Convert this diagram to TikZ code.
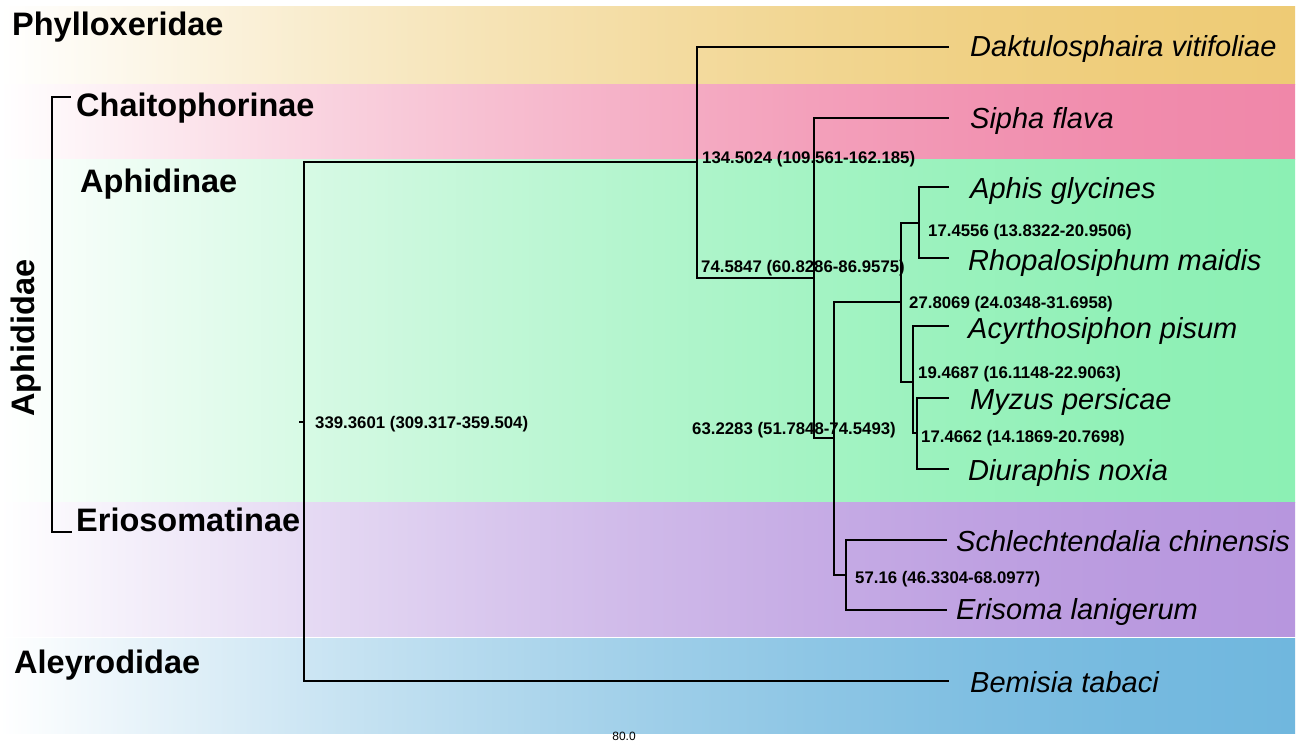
\documentclass[tikz,border=0pt]{standalone}
\usepackage{fontspec}
\setmainfont{Liberation Sans}
\usepackage{xcolor}
\definecolor{phyllogold}{HTML}{EECB75}
\definecolor{chaitopink}{HTML}{F087A9}
\definecolor{aphidgreen}{HTML}{8CF0B4}
\definecolor{eriopurple}{HTML}{B796DE}
\definecolor{aleyblue}{HTML}{70B7DE}
\colorlet{bandc}{white}
\usepackage{tikz}
\usetikzlibrary{positioning}
\pgfdeclarehorizontalshading[bandc]{bandramp}{100bp}{color(0bp)=(white);
  color(25bp)=(white); color(31.25bp)=(bandc!19); color(37.5bp)=(bandc!37);
  color(43.75bp)=(bandc!53); color(50bp)=(bandc!67); color(56.25bp)=(bandc!79);
  color(62.5bp)=(bandc!89); color(68.75bp)=(bandc!96); color(75bp)=(bandc);
  color(100bp)=(bandc)}

\begin{document}
\begin{tikzpicture}[x=1pt,y=-1pt,
  band/.code={\colorlet{bandc}{#1}\tikzset{shading=bandramp}},
  branch/.style={line width=2.2pt},
  clade/.style={font=\fontsize{32.5}{33}\selectfont\bfseries,
                anchor=base west,inner sep=0pt},
  species/.style={font=\fontsize{29}{30}\selectfont\itshape,
                  anchor=base west,inner sep=0pt},
  age/.style={font=\fontsize{16.8}{17}\selectfont\bfseries,
              anchor=base west,inner sep=0pt}]
  \fill[white] (0,0) rectangle (1303,746);
  \useasboundingbox (0,0) rectangle (1303,746);
  % coloured bands
  \shade[band=phyllogold] (0,7) rectangle (1295,85);
  \shade[band=chaitopink] (0,85) rectangle (1295,160);
  \shade[band=aphidgreen] (0,160) rectangle (1295,502);
  \shade[band=eriopurple] (0,502) rectangle (1295,636);
  \shade[band=aleyblue] (0,638) rectangle (1295,733);
  % group names
  \node[clade] (phyllo) at (12,36) {Phylloxeridae};
  \node[clade] (chaito) at (76,117) {Chaitophorinae};
  \node[clade] (aphidin) at (80,193) {Aphidinae};
  \node[clade] (eriosom) at (76,531) {Eriosomatinae};
  \node[clade] (aleyro) at (14,673) {Aleyrodidae};
  \node[clade,anchor=base,rotate=90] (aphidid) at (34,338) {Aphididae};
  \coordinate (brtop) at (71,97);
  \coordinate (brbot) at (72,532);
  \draw[line width=2pt] (brtop) -- ++(-19,0) |- (brbot);
  % internal nodes
  \coordinate (stub) at (299,422);
  \coordinate (root) at (304,422);
  \coordinate (n1) at (697,162);
  \coordinate (n2) at (814,278);
  \coordinate (n3) at (834,438);
  \coordinate (n4) at (901,302);
  \coordinate (n5) at (919,223);
  \coordinate (n6) at (913,382);
  \coordinate (n7) at (917,433);
  \coordinate (n8) at (846,575);
  % tips
  \coordinate (dak) at (949,47);
  \coordinate (sip) at (949,118);
  \coordinate (aph) at (949,187);
  \coordinate (rho) at (949,258);
  \coordinate (acy) at (949,326);
  \coordinate (myz) at (949,398);
  \coordinate (diu) at (949,469);
  \coordinate (sch) at (947,540);
  \coordinate (eri) at (947,610);
  \coordinate (bem) at (949,681);
  % branches
  \draw[branch] (stub) -- (root);
  \draw[branch] (root) |- (n1);
  \draw[branch] (root) |- (bem);
  \draw[branch] (n1) |- (dak);
  \draw[branch] (n1) |- (n2);
  \draw[branch] (n2) |- (sip);
  \draw[branch] (n2) |- (n3);
  \draw[branch] (n3) |- (n4);
  \draw[branch] (n3) |- (n8);
  \draw[branch] (n4) |- (n5);
  \draw[branch] (n4) |- (n6);
  \draw[branch] (n5) |- (aph);
  \draw[branch] (n5) |- (rho);
  \draw[branch] (n6) |- (acy);
  \draw[branch] (n6) |- (n7);
  \draw[branch] (n7) |- (myz);
  \draw[branch] (n7) |- (diu);
  \draw[branch] (n8) |- (sch);
  \draw[branch] (n8) |- (eri);
  % node ages
  \node[age] (ageroot) at (315,428) {339.3601 (309.317-359.504)};
  \node[age] (agen1) at (702,164) {134.5024 (109.561-162.185)};
  \node[age] (agen2) at (701,272) {74.5847 (60.8286-86.9575)};
  \node[age] (agen3) at (692,434) {63.2283 (51.7848-74.5493)};
  \node[age] (agen4) at (909,308) {27.8069 (24.0348-31.6958)};
  \node[age] (agen5) at (928,236) {17.4556 (13.8322-20.9506)};
  \node[age] (agen6) at (918,378) {19.4687 (16.1148-22.9063)};
  \node[age] (agen7) at (921,442) {17.4662 (14.1869-20.7698)};
  \node[age] (agen8) at (855,583) {57.16 (46.3304-68.0977)};
  % species
  \node[species] (dakname) at (970,57) {Daktulosphaira vitifoliae};
  \node[species] (sipname) at (970,129) {Sipha flava};
  \node[species] (aphname) at (970,199) {Aphis glycines};
  \node[species] (rhoname) at (968,270) {Rhopalosiphum maidis};
  \node[species] (acyname) at (968,338) {Acyrthosiphon pisum};
  \node[species] (myzname) at (970,409) {Myzus persicae};
  \node[species] (diuname) at (968,480) {Diuraphis noxia};
  \node[species] (schname) at (956,551) {Schlechtendalia chinensis};
  \node[species] (eriname) at (956,619) {Erisoma lanigerum};
  \node[species] (bemname) at (970,692) {Bemisia tabaci};
  \node[font=\fontsize{12}{12}\selectfont,anchor=base] (scale) at (624,740) {80.0};
\end{tikzpicture}
\end{document}
